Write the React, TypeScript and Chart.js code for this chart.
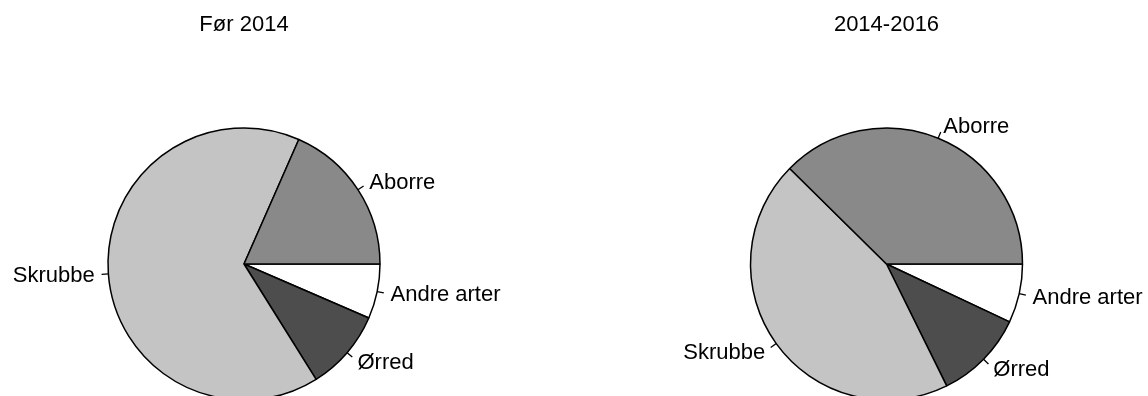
import React, { useEffect, useRef } from "react";
import { Chart, registerables } from "chart.js";

Chart.register(...registerables);

// Categories in the order R draws them (counter-clockwise from 3 o'clock)
const categories = ["Aborre", "Skrubbe", "Ørred", "Andre arter"];
const colors = ["#898989", "#c4c4c4", "#4d4d4d", "#ffffff"];
// Shares (%)
const before2014 = [18.4, 65.5, 9.6, 6.5];
const period2014_2016 = [37.6, 44.7, 10.7, 7.0];
const titles = ["Før 2014", "2014-2016"];

const FONT = '22px "Liberation Sans", Arial, sans-serif';

const labelPlugin = {
  id: "rPieLabels",
  afterDraw(chart: any) {
    const ctx = chart.ctx;
    const meta = chart.getDatasetMeta(0);
    const labels: string[] = chart.data.labels;
    ctx.save();
    ctx.font = FONT;
    ctx.fillStyle = "#000";
    ctx.strokeStyle = "#000";
    ctx.lineWidth = 1.3;
    let cx = 0;
    meta.data.forEach((arc: any, i: number) => {
      const p = arc.getProps(["x", "y", "startAngle", "endAngle", "outerRadius"], true);
      cx = p.x;
      const mid = (p.startAngle + p.endAngle) / 2;
      const c = Math.cos(mid);
      const s = Math.sin(mid);
      const r = p.outerRadius;
      ctx.beginPath();
      ctx.moveTo(p.x + r * c, p.y + r * s);
      ctx.lineTo(p.x + 1.05 * r * c, p.y + 1.05 * r * s);
      ctx.stroke();
      ctx.textAlign = c < 0 ? "right" : "left";
      ctx.textBaseline = "middle";
      ctx.fillText(labels[i], p.x + 1.1 * r * c, p.y + 1.1 * r * s + 1);
    });
    const title = chart.options.plugins.rPieLabels.title;
    ctx.textAlign = "center";
    ctx.textBaseline = "middle";
    ctx.fillText(title, cx, 25);
    ctx.restore();
  },
};

function makeChart(canvas: HTMLCanvasElement, values: number[], title: string, padLeft: number, padRight: number) {
  // Chart.js draws clockwise; reverse so slices run counter-clockwise like R
  const labels = [...categories].reverse();
  const data = [...values].reverse();
  const bg = [...colors].reverse();
  return new Chart(canvas, {
    type: "pie",
    data: {
      labels,
      datasets: [
        {
          data,
          backgroundColor: bg,
          borderColor: "#000",
          borderWidth: 1.5,
        },
      ],
    },
    options: {
      responsive: false,
      animation: false,
      devicePixelRatio: 1,
      rotation: 90,
      radius: 136,
      layout: { padding: { left: padLeft, right: padRight, top: 124, bottom: 36 } },
      plugins: {
        legend: { display: false },
        tooltip: { enabled: false },
        rPieLabels: { title },
      } as any,
    },
    plugins: [labelPlugin],
  });
}

export default function App() {
  const leftRef = useRef<HTMLCanvasElement>(null);
  const rightRef = useRef<HTMLCanvasElement>(null);

  useEffect(() => {
    const a = makeChart(leftRef.current!, before2014, titles[0], 104, 190);
    const b = makeChart(rightRef.current!, period2014_2016, titles[1], 172.5, 121.5);
    return () => {
      a.destroy();
      b.destroy();
    };
  }, []);

  return (
    <div
      style={{
        position: "fixed",
        left: 0,
        top: 0,
        width: 1148,
        height: 396,
        overflow: "hidden",
        background: "#fff",
      }}
    >
      <canvas ref={leftRef} width={574} height={440} style={{ position: "absolute", left: 0, top: 0 }} />
      <canvas ref={rightRef} width={574} height={440} style={{ position: "absolute", left: 574, top: 0 }} />
    </div>
  );
}
